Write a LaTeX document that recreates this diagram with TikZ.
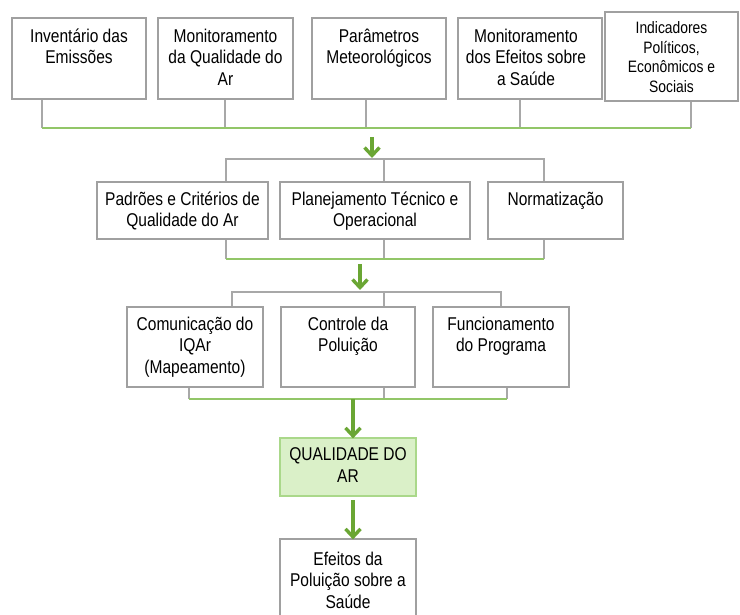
\documentclass[tikz,border=0pt]{standalone}
\usepackage{fontspec}
\setmainfont{Liberation Sans}[FakeStretch=0.84]
\usetikzlibrary{arrows.meta}
\definecolor{boxgray}{RGB}{160,160,160}
\definecolor{stubgray}{RGB}{168,168,168}
\definecolor{busgreen}{RGB}{146,198,104}
\definecolor{arrgreen}{RGB}{106,166,52}
\definecolor{qfill}{RGB}{218,240,200}
\definecolor{qdraw}{RGB}{170,216,138}
\newcommand{\mainfnt}{\fontsize{18.5}{21.5}\selectfont}
\newcommand{\smallfnt}{\fontsize{16.5}{19.5}\selectfont}
\tikzset{
  box/.style={draw=boxgray, line width=1.2pt, fill=white, inner sep=0pt, rectangle},
  qbox/.style={draw=qdraw, line width=1.2pt, fill=qfill, inner sep=0pt, rectangle},
  txt/.style={anchor=north, inner sep=0pt, align=center, font=\mainfnt, text=black,
    execute at begin node=\rule{0pt}{14pt}},
  stxt/.style={txt, font=\smallfnt, execute at begin node=\rule{0pt}{13pt}},
  stub/.style={draw=stubgray, line width=1.1pt},
  gline/.style={draw=busgreen, line width=1.8pt},
  garrow/.style={draw=arrgreen, line width=3.4pt, -{Straight Barb[length=8pt,width=15pt]}}
}
\begin{document}
\begin{tikzpicture}[x=1pt,y=-1pt]
\useasboundingbox (0,0) rectangle (740,615);
% ---------- row 1 ----------
\node[box, minimum width=134pt, minimum height=81pt] (b1) at (79,58.5) {};
\node[box, minimum width=135pt, minimum height=81pt] (b2) at (225.5,58.5) {};
\node[box, minimum width=134pt, minimum height=81pt] (b3) at (379,58.5) {};
\node[box, minimum width=144pt, minimum height=81pt] (b4) at (530,58.5) {};
\node[box, minimum width=133pt, minimum height=89pt] (b5) at (671.5,56.5) {};
\node[txt] (t1) at ([yshift=-11pt]b1.north) {Inventário das\\Emissões};
\node[txt] (t2) at ([yshift=-11pt]b2.north) {Monitoramento\\da Qualidade do\\Ar};
\node[txt] (t3) at ([yshift=-11pt]b3.north) {Parâmetros\\Meteorológicos};
\node[txt] (t4) at ([xshift=-4pt,yshift=-11pt]b4.north) {Monitoramento\\dos Efeitos sobre\\a Saúde};
\node[stxt] (t5) at ([yshift=-10pt]b5.north) {Indicadores\\Políticos,\\Econômicos e\\Sociais};
\coordinate (s1) at (42,128);
\coordinate (s2) at (225,128);
\coordinate (s3) at (366,128);
\coordinate (s4) at (520,128);
\coordinate (s5) at (691,128);
\draw[stub] (s1 |- b1.south) -- (s1);
\draw[stub] (s2 |- b2.south) -- (s2);
\draw[stub] (s3 |- b3.south) -- (s3);
\draw[stub] (s4 |- b4.south) -- (s4);
\draw[stub] (s5 |- b5.south) -- (s5);
\draw[gline] (s1) -- (s5);
% ---------- row 2 ----------
\node[box, minimum width=171pt, minimum height=57pt] (r2a) at (182.5,210.5) {};
\node[box, minimum width=190pt, minimum height=57pt] (r2b) at (375,210.5) {};
\node[box, minimum width=135pt, minimum height=57pt] (r2c) at (555.5,210.5) {};
\node[txt] (t6) at ([yshift=-10pt]r2a.north) {Padrões e Critérios de\\Qualidade do Ar};
\node[txt] (t7) at ([yshift=-10pt]r2b.north) {Planejamento Técnico e\\Operacional};
\node[txt] (t8) at ([yshift=-10pt]r2c.north) {Normatização};
\coordinate (a1s) at (372,137);
\coordinate (a1e) at (372,158);
\draw[garrow] (a1s) -- (a1e);
\coordinate (p2a) at (226,159);
\coordinate (p2b) at (384,159);
\coordinate (p2c) at (544,159);
\draw[stub] (p2a |- r2a.north) -- (p2a) -- (p2c) -- (p2c |- r2c.north);
\draw[stub] (p2b) -- (p2b |- r2b.north);
\coordinate (q2a) at (226,259);
\coordinate (q2b) at (384,259);
\coordinate (q2c) at (544,259);
\draw[stub] (q2a |- r2a.south) -- (q2a);
\draw[stub] (q2b |- r2b.south) -- (q2b);
\draw[stub] (q2c |- r2c.south) -- (q2c);
\draw[gline] (q2a) -- (q2c);
% ---------- row 3 ----------
\node[box, minimum width=136pt, minimum height=80pt] (r3a) at (195,347) {};
\node[box, minimum width=134pt, minimum height=80pt] (r3b) at (348,347) {};
\node[box, minimum width=136pt, minimum height=80pt] (r3c) at (501,347) {};
\node[txt] (t9) at ([yshift=-10pt]r3a.north) {Comunicação do\\IQAr\\(Mapeamento)};
\node[txt] (t10) at ([yshift=-10pt]r3b.north) {Controle da\\Poluição};
\node[txt] (t11) at ([yshift=-10pt]r3c.north) {Funcionamento\\do Programa};
\coordinate (a2s) at (360,264);
\coordinate (a2e) at (360,290);
\draw[garrow] (a2s) -- (a2e);
\coordinate (p3a) at (232,292);
\coordinate (p3b) at (384,292);
\coordinate (p3c) at (501,292);
\draw[stub] (p3a |- r3a.north) -- (p3a) -- (p3c) -- (p3c |- r3c.north);
\draw[stub] (p3b) -- (p3b |- r3b.north);
\coordinate (q3a) at (189,399);
\coordinate (q3b) at (384,399);
\coordinate (q3c) at (507,399);
\coordinate (q3m) at (353,399);
\draw[stub] (q3a |- r3a.south) -- (q3a);
\draw[stub] (q3b |- r3b.south) -- (q3b);
\draw[stub] (q3c |- r3c.south) -- (q3c);
\draw[gline] (q3a) -- (q3c);
% ---------- bottom ----------
\node[qbox, minimum width=136pt, minimum height=58pt] (qa) at (348,467) {};
\node[txt] (t12) at ([yshift=-10pt]qa.north) {QUALIDADE DO\\AR};
\node[box, minimum width=136pt, minimum height=79pt] (ef) at (348,578.5) {};
\node[txt] (t13) at ([yshift=-13pt]ef.north) {Efeitos da\\Poluição sobre a\\Saúde};
\draw[garrow] (q3m) -- ([yshift=-1pt]q3m |- qa.north);
\coordinate (a4s) at (353,500);
\draw[garrow] (a4s) -- ([yshift=-1pt]a4s |- ef.north);
\end{tikzpicture}
\end{document}
